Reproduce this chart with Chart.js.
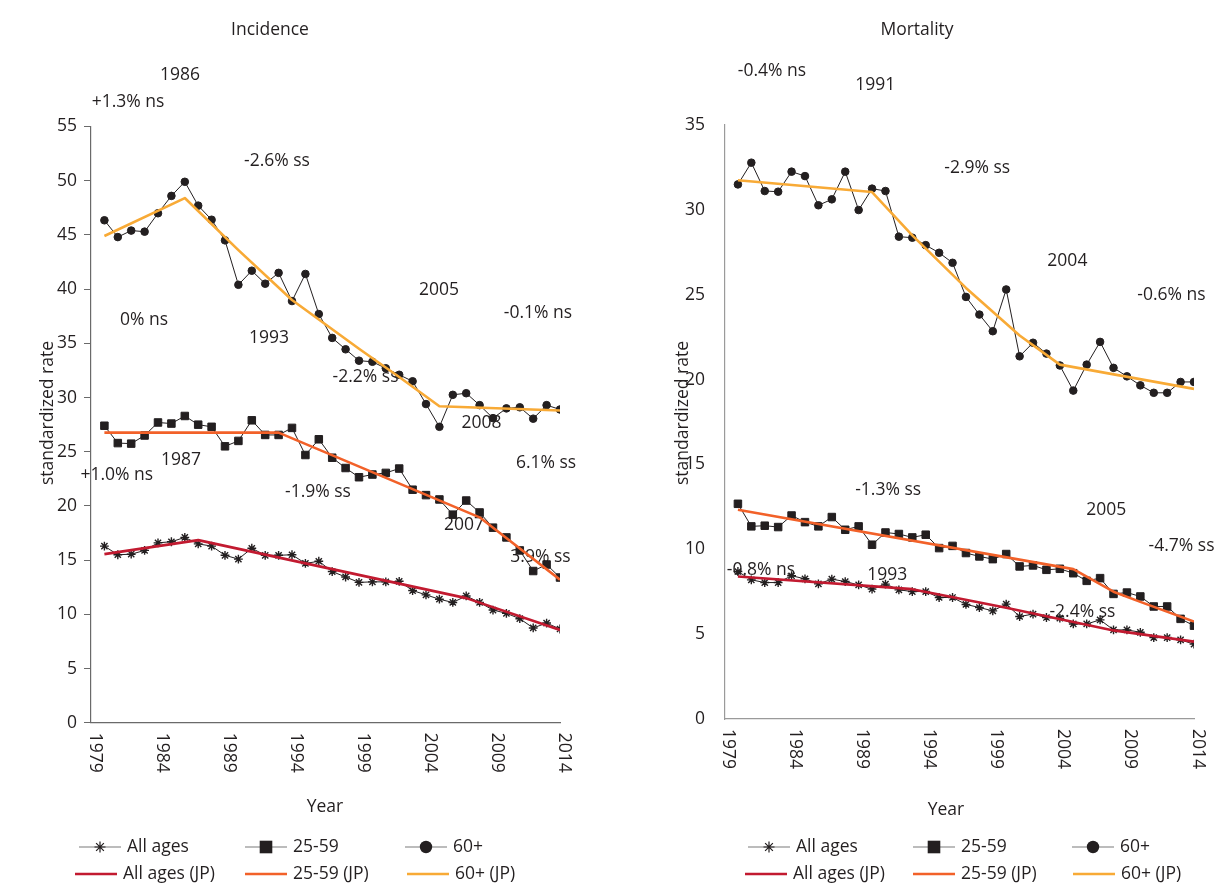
<!DOCTYPE html>
<html><head><meta charset="utf-8">
<script src="https://cdn.jsdelivr.net/npm/chart.js@4.4.1/dist/chart.umd.min.js"></script>
<style>
html,body{margin:0;padding:0;background:#fff;}
#wrap{position:relative;width:1217px;height:886px;overflow:hidden;background:#fff;}
.pane{position:absolute;top:0;height:886px;}
</style></head><body>
<div id="wrap">
  <div class="pane" style="left:0;width:608px"><canvas id="inc"></canvas></div>
  <div class="pane" style="left:608px;width:609px"><canvas id="mort"></canvas></div>
</div>
<script>
// ---------- DATA ----------
const years = [1980,1981,1982,1983,1984,1985,1986,1987,1988,1989,1990,1991,1992,1993,1994,1995,1996,1997,1998,1999,2000,2001,2002,2003,2004,2005,2006,2007,2008,2009,2010,2011,2012,2013,2014];
const xTickLabels = ['1979','1984','1989','1994','1999','2004','2009','2014'];
const seriesLabels = ['All ages','25-59','60+','All ages (JP)','25-59 (JP)','60+ (JP)'];

// Incidence (observed)
const incAllAges = [16.3,15.5,15.55,15.9,16.6,16.7,17.1,16.5,16.3,15.45,15.1,16.1,15.45,15.45,15.5,14.7,14.9,13.95,13.45,12.95,13.0,13.0,13.05,12.2,11.8,11.4,11.1,11.7,11.1,10.4,10.1,9.6,8.75,9.2,8.65];
const inc2559 = [27.4,25.8,25.75,26.5,27.7,27.6,28.3,27.5,27.3,25.5,26.0,27.9,26.55,26.55,27.2,24.7,26.15,24.45,23.5,22.65,22.9,23.05,23.45,21.5,21.0,20.6,19.2,20.5,19.4,18.0,17.1,15.9,14.0,14.6,13.4];
const inc60 = [46.35,44.8,45.4,45.3,47.0,48.6,49.9,47.7,46.4,44.5,40.4,41.7,40.5,41.5,38.9,41.4,37.7,35.5,34.45,33.4,33.3,32.7,32.1,31.5,29.4,27.3,30.25,30.4,29.3,28.1,29.0,29.1,28.05,29.3,28.9];
// Incidence (joinpoint fits, read at break years)
const incAllJPYears = [1980,1987,2007,2014];
const incAllJP = [15.56,16.85,11.5,8.56];
const inc2559JPYears = [1980,1993,2008,2014];
const inc2559JP = [26.76,26.76,18.95,13.2];
const inc60JPYears = [1980,1986,1990,1994,1999,2002,2005,2014];
const inc60JP = [44.9,48.4,43.6,39.0,34.5,31.9,29.2,28.8];

// Mortality (observed)
const mortAllAges = [8.69,8.2,8.04,8.04,8.44,8.26,7.96,8.24,8.1,7.9,7.65,7.95,7.61,7.51,7.51,7.16,7.16,6.75,6.57,6.37,6.77,6.04,6.18,5.98,5.94,5.6,5.6,5.84,5.25,5.25,5.11,4.8,4.8,4.66,4.41];
const mort2559 = [12.68,11.35,11.39,11.31,11.99,11.6,11.35,11.9,11.15,11.35,10.27,10.99,10.9,10.7,10.86,10.07,10.2,9.78,9.58,9.42,9.72,8.99,9.05,8.79,8.85,8.59,8.14,8.3,7.37,7.45,7.22,6.63,6.63,5.9,5.5];
const mort60 = [31.5,32.78,31.11,31.07,32.25,31.99,30.27,30.62,32.25,29.99,31.25,31.11,28.42,28.36,27.92,27.47,26.88,24.87,23.83,22.85,25.31,21.37,22.17,21.53,20.83,19.35,20.88,22.22,20.69,20.19,19.66,19.22,19.22,19.86,19.86];
// Mortality (joinpoint fits)
const mortAllJPYears = [1980,1993,2000,2008,2014];
const mortAllJP = [8.4,7.65,6.55,5.22,4.56];
const mort2559JPYears = [1980,2005,2008,2010,2014];
const mort2559JP = [12.33,8.83,7.5,6.9,5.74];
const mort60JPYears = [1980,1990,1993,1997,2001,2004,2014];
const mort60JP = [31.74,31.05,28.5,25.4,22.6,20.88,19.45];

// Annotation texts (placed in data coordinates)
const incNotes = [
  {t:'1986', x:1985.64, y:59.75}, {t:'+1.3% ns', x:1981.76, y:57.26},
  {t:'-2.6% ss', x:1992.88, y:51.84}, {t:'0% ns', x:1982.96, y:37.15},
  {t:'1993', x:1992.28, y:35.46}, {t:'2005', x:2004.97, y:39.92},
  {t:'-0.1% ns', x:2012.36, y:37.77}, {t:'-2.2% ss', x:1999.49, y:31.87},
  {t:'2008', x:2008.14, y:27.62}, {t:'1987', x:1985.72, y:24.24},
  {t:'+1.0% ns', x:1980.92, y:22.86}, {t:'-1.9% ss', x:1995.94, y:21.32},
  {t:'6.1% ss', x:2012.96, y:23.93}, {t:'2007', x:2006.84, y:18.24},
  {t:'3.9% ss', x:2012.54, y:15.32}
];
const mortNotes = [
  {t:'-0.4% ns', x:1982.54, y:38.18}, {t:'1991', x:1990.23, y:37.36},
  {t:'-2.9% ss', x:1997.84, y:32.47}, {t:'2004', x:2004.56, y:27.01},
  {t:'-0.6% ns', x:2012.32, y:24.99}, {t:'-1.3% ss', x:1991.2, y:13.49},
  {t:'2005', x:2007.46, y:12.32}, {t:'-4.7% ss', x:2013.07, y:10.19},
  {t:'-0.8% ns', x:1981.72, y:8.78}, {t:'1993', x:1991.13, y:8.49},
  {t:'-2.4% ss', x:2005.68, y:6.32}
];

// ---------- STYLE ----------
const TXT = '#231f20';
const FONT = '"Open Sans", "Noto Sans", sans-serif';
const FS = 17.5;
const C_ALL = '#c21a30', C_2559 = '#f26129', C_60 = '#f8aa36';

function pts(xs, ys){ return xs.map((x,i)=>({x:x, y:ys[i]})); }

function makeDatasets(all, a2559, a60, jpAllX, jpAll, jp2559X, jp2559, jp60X, jp60){
  const obs = (label, data, style, r) => ({
    label, data: pts(years, data), borderColor: TXT, borderWidth: 1,
    pointStyle: style, pointRadius: r, pointBorderWidth: style==='star'?1.4:1,
    pointBackgroundColor: TXT, pointBorderColor: TXT, tension: 0, order: 2
  });
  const jp = (label, xs, ys, color) => ({
    label, data: pts(xs, ys), borderColor: color, borderWidth: 2.6,
    pointRadius: 0, tension: 0, order: 1, borderCapStyle: 'butt', borderJoinStyle: 'round'
  });
  return [
    obs(seriesLabels[0], all, 'star', 4.4),
    obs(seriesLabels[1], a2559, 'rect', 5.3),
    obs(seriesLabels[2], a60, 'circle', 3.8),
    jp(seriesLabels[3], jpAllX, jpAll, C_ALL),
    jp(seriesLabels[4], jp2559X, jp2559, C_2559),
    jp(seriesLabels[5], jp60X, jp60, C_60)
  ];
}

function drawMarker(ctx, style, x, y){
  ctx.save();
  ctx.fillStyle = TXT; ctx.strokeStyle = TXT;
  if (style === 'star') {
    ctx.lineWidth = 1.2;
    const r = 5.5;
    ctx.beginPath();
    for (let k=0;k<4;k++){ const a = k*Math.PI/4; ctx.moveTo(x-r*Math.cos(a), y-r*Math.sin(a)); ctx.lineTo(x+r*Math.cos(a), y+r*Math.sin(a)); }
    ctx.stroke();
  } else if (style === 'rect') {
    ctx.fillRect(x-6.3, y-6.3, 12.6, 12.6);
  } else {
    ctx.beginPath(); ctx.arc(x, y, 6.2, 0, Math.PI*2); ctx.fill();
  }
  ctx.restore();
}

function decor(o){
  return {
    id: 'decor',
    beforeDatasetsDraw(chart){
      const {ctx, scales:{x, y}} = chart;
      ctx.save();
      ctx.fillStyle = TXT; ctx.font = FS + 'px ' + FONT;
      ctx.textAlign = 'center'; ctx.textBaseline = 'middle';
      o.notes.forEach(n => ctx.fillText(n.t, x.getPixelForValue(n.x), y.getPixelForValue(n.y)));
      ctx.restore();
    },
    afterDraw(chart){
      const {ctx, scales:{x}} = chart;
      ctx.save();
      ctx.fillStyle = TXT; ctx.font = FS + 'px ' + FONT; ctx.textBaseline = 'middle';
      ctx.textAlign = 'center';
      ctx.fillText(o.title, o.titlePos[0], o.titlePos[1]);
      ctx.fillText('Year', o.xTitlePos[0], o.xTitlePos[1]);
      ctx.save();
      ctx.translate(o.yTitlePos[0], o.yTitlePos[1]); ctx.rotate(-Math.PI/2);
      ctx.fillText('standardized rate', 0, 0);
      ctx.restore();
      const base = chart.chartArea.bottom;
      x.ticks.forEach(t => {
        const px = x.getPixelForValue(t.value);
        ctx.save();
        ctx.translate(px + 3.5, base + 10);
        ctx.rotate(Math.PI/2);
        ctx.textAlign = 'left';
        ctx.fillText(String(t.value), 0, 0);
        ctx.restore();
      });
      const ds = chart.data.datasets;
      o.legend.forEach((slot, i) => {
        const d = ds[i];
        const x1 = slot[0], yy = slot[1], x2 = x1 + 42;
        if (i < 3) {
          ctx.save(); ctx.strokeStyle = '#7a7a7a'; ctx.lineWidth = 1.2;
          ctx.beginPath(); ctx.moveTo(x1, yy); ctx.lineTo(x2, yy); ctx.stroke(); ctx.restore();
          drawMarker(ctx, d.pointStyle, (x1+x2)/2, yy);
        } else {
          ctx.save(); ctx.strokeStyle = d.borderColor; ctx.lineWidth = 2.6;
          ctx.beginPath(); ctx.moveTo(x1, yy); ctx.lineTo(x2, yy); ctx.stroke(); ctx.restore();
        }
        ctx.textAlign = 'left';
        ctx.fillText(d.label, x2 + 6, yy);
      });
      ctx.restore();
    }
  };
}

function makeChart(id, cfg){
  return new Chart(document.getElementById(id), {
    type: 'line',
    data: { datasets: cfg.datasets },
    options: {
      responsive: true, maintainAspectRatio: false, animation: false,
      layout: { padding: cfg.padding },
      plugins: { legend: {display:false}, tooltip: {enabled:false}, title: {display:false} },
      elements: { line: { fill: false } },
      scales: {
        x: {
          type: 'linear', min: 1979, max: 2014,
          afterBuildTicks: s => { s.ticks = xTickLabels.map(l => ({value: Number(l)})); },
          afterFit: s => { s.height = 50; },
          ticks: { display: false },
          grid: { display: false, drawTicks: false },
          border: { display: true, color: cfg.axisColor, width: 1.2 }
        },
        y: {
          type: 'linear', min: 0, max: cfg.yMax,
          afterFit: s => { s.width = cfg.yWidth; },
          ticks: { stepSize: 5, color: TXT, font: { family: FONT, size: FS }, padding: cfg.tickPad },
          grid: cfg.yTicks ? { display: true, drawOnChartArea: false, drawTicks: true, tickLength: 7, color: cfg.axisColor }
                           : { display: false, drawTicks: false },
          border: { display: true, color: cfg.axisColor, width: 1.2 }
        }
      }
    },
    plugins: [decor(cfg.decor)]
  });
}

makeChart('inc', {
  datasets: makeDatasets(incAllAges, inc2559, inc60, incAllJPYears, incAllJP, inc2559JPYears, inc2559JP, inc60JPYears, inc60JP),
  padding: { left: 0, top: 126.5, right: 48, bottom: 113.2 },
  yMax: 55, yWidth: 91, tickPad: 7, yTicks: true, axisColor: '#6a6a6a',
  decor: {
    notes: incNotes, title: 'Incidence', titlePos: [270, 30], xTitlePos: [325, 807], yTitlePos: [48, 413],
    legend: [[79,847],[245,847],[405,847],[75,874],[245,874],[407,874]]
  }
});

makeChart('mort', {
  datasets: makeDatasets(mortAllAges, mort2559, mort60, mortAllJPYears, mortAllJP, mort2559JPYears, mort2559JP, mort60JPYears, mort60JP),
  padding: { left: 0, top: 125, right: 23, bottom: 117 },
  yMax: 35, yWidth: 116.5, tickPad: 19.5, yTicks: false, axisColor: '#9a9a9a',
  decor: {
    notes: mortNotes, title: 'Mortality', titlePos: [309, 30], xTitlePos: [338, 810], yTitlePos: [75, 413],
    legend: [[140,847],[305,847],[464,847],[137,874],[305,874],[465,874]]
  }
});
</script>
</body></html>
